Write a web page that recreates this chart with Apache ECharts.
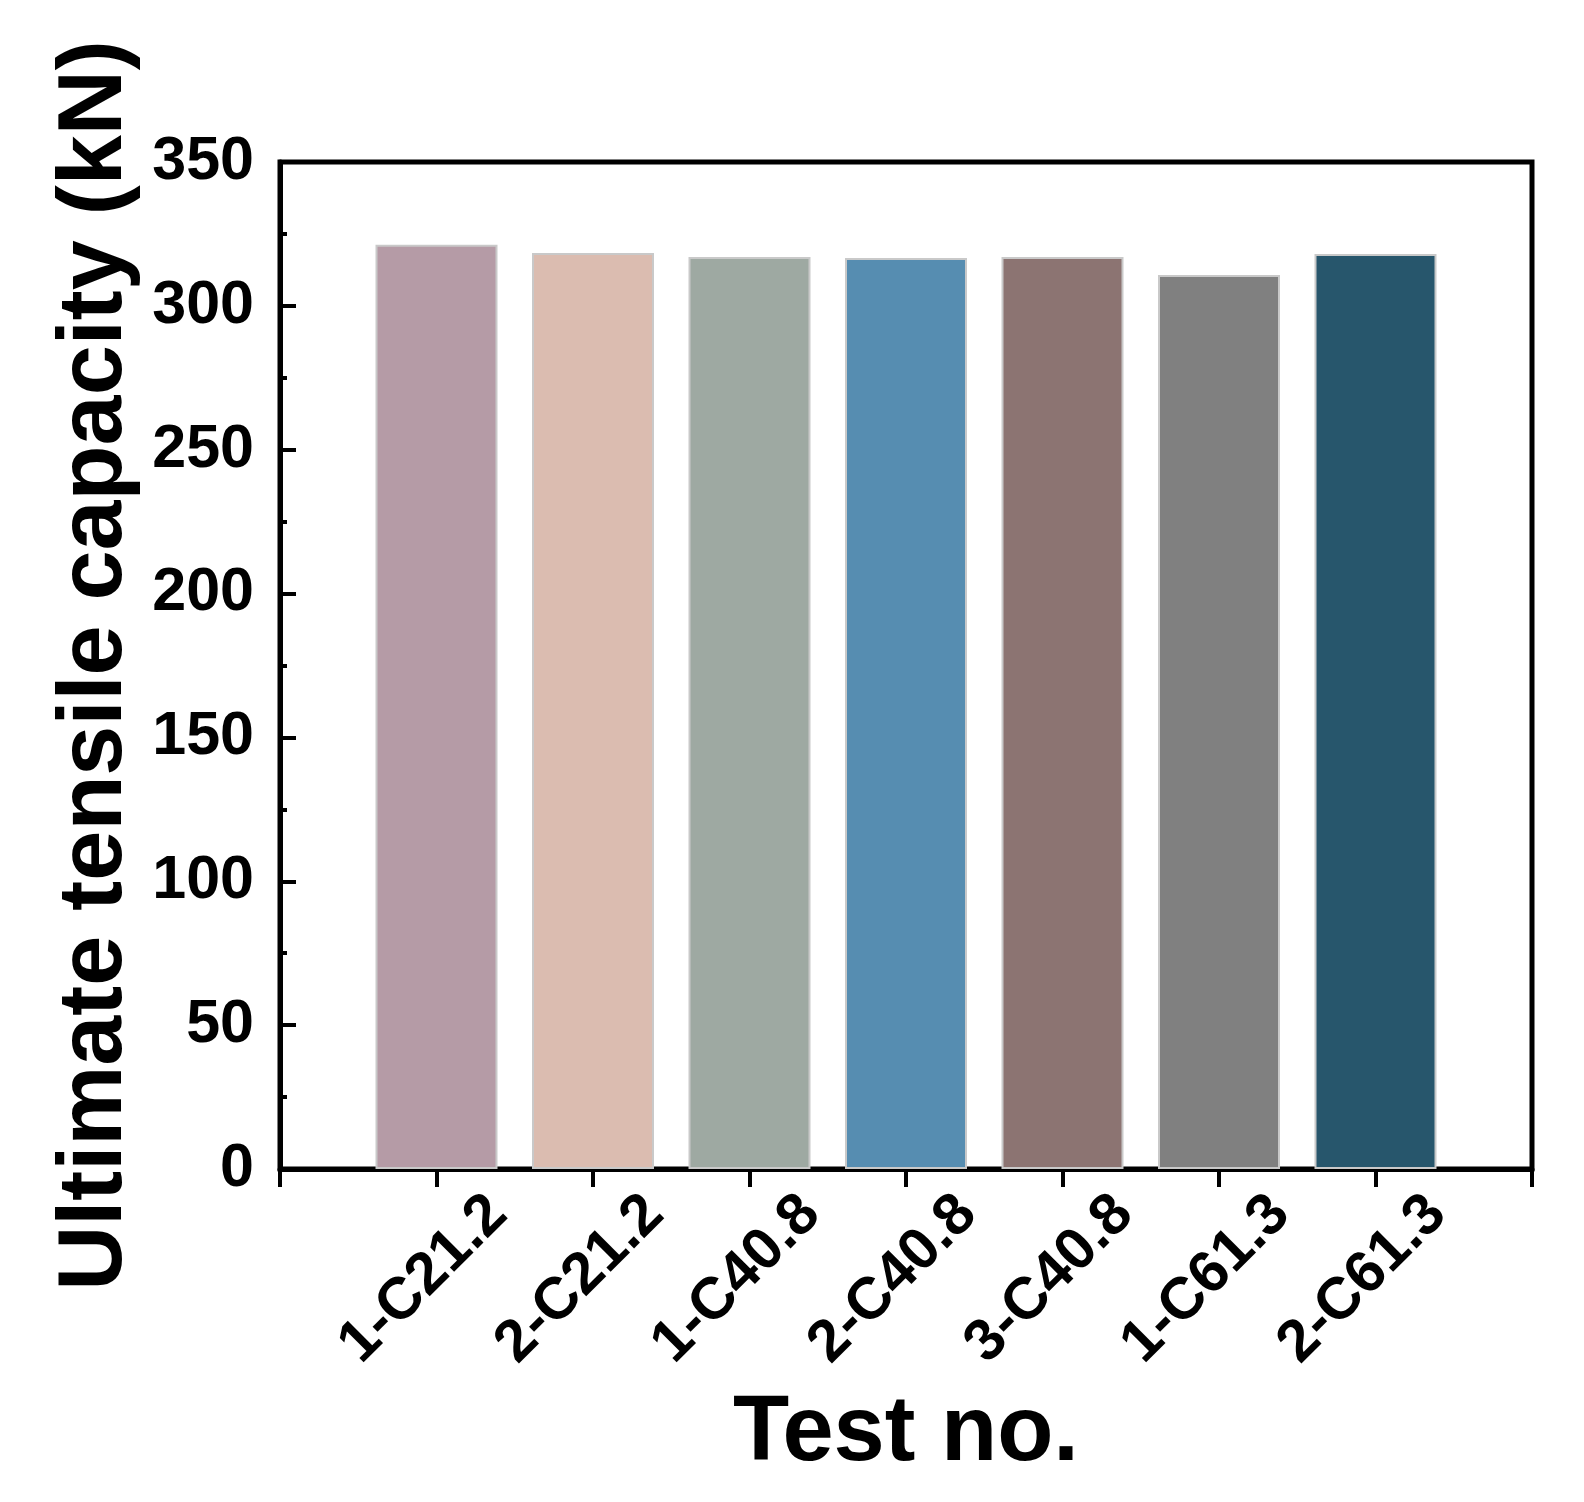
<!DOCTYPE html>
<html>
<head>
<meta charset="utf-8">
<script src="https://cdn.jsdelivr.net/npm/echarts@6/dist/echarts.min.js"></script>
<style>
  html, body { margin: 0; padding: 0; background: #fff; }
  #chart { width: 1584px; height: 1502px; }
</style>
</head>
<body>
<div id="chart"></div>
<script>
// test labels and measured capacities (kN)
const tests = ['1-C21.2', '2-C21.2', '1-C40.8', '2-C40.8', '3-C40.8', '1-C61.3', '2-C61.3'];
const capacity = [321.2, 318.4, 317.0, 316.6, 317.0, 310.7, 318.0];
const yTicks = [0, 50, 100, 150, 200, 250, 300, 350];

const barColors = ['#b59ba6', '#dbbcb0', '#9ea9a2', '#568db1', '#8c7472', '#808080', '#27566c'];
const font = '"Liberation Sans", Arial, sans-serif';

let chartView = echarts.init(document.getElementById('chart'));
chartView.setOption({
    backgroundColor: '#fff',
    animation: false,
    grid: {
        left: 280,
        right: 52,
        top: 162,
        bottom: 333,
        show: true,
        borderColor: '#000',
        borderWidth: 5,
        backgroundColor: 'transparent'
    },
    xAxis: {
        type: 'value',
        min: 0,
        max: tests.length + 1,
        interval: 1,
        name: 'Test no.',
        nameLocation: 'middle',
        nameGap: 220,
        nameTextStyle: { fontFamily: font, fontWeight: 'bold', fontSize: 92, color: '#000' },
        axisLine: { show: true, lineStyle: { color: '#000', width: 5 } },
        axisTick: { show: true, inside: false, length: 18, lineStyle: { color: '#000', width: 4 } },
        splitLine: { show: false },
        // tick labels are drawn as bar labels below, so they can sit off-tick like the original
        axisLabel: { show: false }
    },
    yAxis: {
        type: 'value',
        min: yTicks[0],
        max: yTicks[yTicks.length - 1],
        interval: 50,
        name: 'Ultimate tensile capacity (kN)',
        nameLocation: 'middle',
        nameGap: 137,
        nameTextStyle: { fontFamily: font, fontWeight: 'bold', fontSize: 90, color: '#000' },
        axisLine: { show: true, lineStyle: { color: '#000', width: 5 } },
        axisTick: { show: true, inside: true, length: 16, lineStyle: { color: '#000', width: 4 } },
        minorTick: { show: true, splitNumber: 2, length: 7, lineStyle: { color: '#000', width: 4 } },
        splitLine: { show: false },
        axisLabel: {
            margin: 26,
            fontFamily: font,
            fontWeight: 'bold',
            fontSize: 61,
            color: '#000'
        }
    },
    series: [{
        type: 'bar',
        barWidth: 122,
        label: {
            show: true,
            position: ['50%', '100%'],
            rotate: 45,
            align: 'right',
            verticalAlign: 'middle',
            offset: [18, 69],
            fontFamily: font,
            fontWeight: 'bold',
            fontSize: 59,
            color: '#000',
            formatter: function (p) {
                return tests[p.dataIndex];
            }
        },
        data: capacity.map(function (v, i) {
            return {
                value: [i + 1, v],
                itemStyle: { color: barColors[i], borderColor: '#c9c9c9', borderWidth: 2 }
            };
        })
    }]
});
window.addEventListener('resize', function () {
    chartView.resize();
});
</script>
</body>
</html>
